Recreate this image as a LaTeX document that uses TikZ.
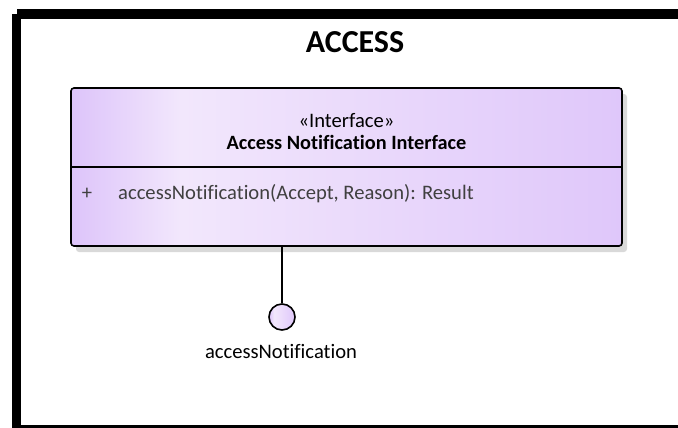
\documentclass[tikz,border=0pt]{standalone}
\usepackage{fontspec}
\setmainfont{Carlito}[Ligatures=NoCommon]
\usepackage{tikz}
\usetikzlibrary{positioning,shadows}
\definecolor{umldark}{RGB}{221,196,250}
\definecolor{umllight}{RGB}{242,231,252}
\definecolor{umlright}{RGB}{223,199,250}
\definecolor{optext}{RGB}{64,64,64}
\pgfdeclarehorizontalshading{umlfill}{100bp}{color(0bp)=(umldark); color(25bp)=(umldark); color(35bp)=(umllight); color(75bp)=(umlright); color(100bp)=(umlright)}

\begin{document}
\begin{tikzpicture}[x=1pt,y=-1pt]
			\tikzset{iface box/.style={draw,line width=1.6pt,rounded corners=3pt,shading=umlfill,minimum width=551pt,minimum height=158pt,inner sep=0pt,drop shadow={shadow xshift=5pt,shadow yshift=-6pt,fill=black!15,opacity=1}},
				uml text/.style={font=\fontsize{20.6}{24}\selectfont,inner sep=0pt,anchor=base}}
			\useasboundingbox (0,0) rectangle (678,428);
			% frame
			\fill (17,9) rectangle (678,19);
			\fill (12,14) rectangle (21,428);
			\fill (21,424.5) rectangle (678,428);
			\node [uml text,font=\bfseries\fontsize{32}{36}\selectfont] (title) at (355,53) {ACCESS};
			% interface
			\node [iface box] (iface) at (346.5,167) {};
			\draw [line width=1.6pt] (iface.west) -- (iface.east);
			\node [uml text] (stereo) at (346.5,128) {«Interface»};
			\node [uml text,font=\bfseries\fontsize{20.3}{24}\selectfont] (ifacename) at (346.5,149) {Access Notification Interface};
			\node [uml text,text=optext] (vis) at (87,199) {+};
			\node [uml text,anchor=base west,text=optext] (op) at (118,199) {accessNotification(Accept, Reason): Result};
			% lollipop
			\node [draw,circle,line width=1.6pt,shading=umlfill,minimum size=26pt,inner sep=0pt] (port) at (282,317) {};
			\draw [line width=1.4pt] (port.north |- iface.south) -- (port.north);
			\node [uml text] (portname) at (281,358) {accessNotification};
		\end{tikzpicture}
\end{document}
